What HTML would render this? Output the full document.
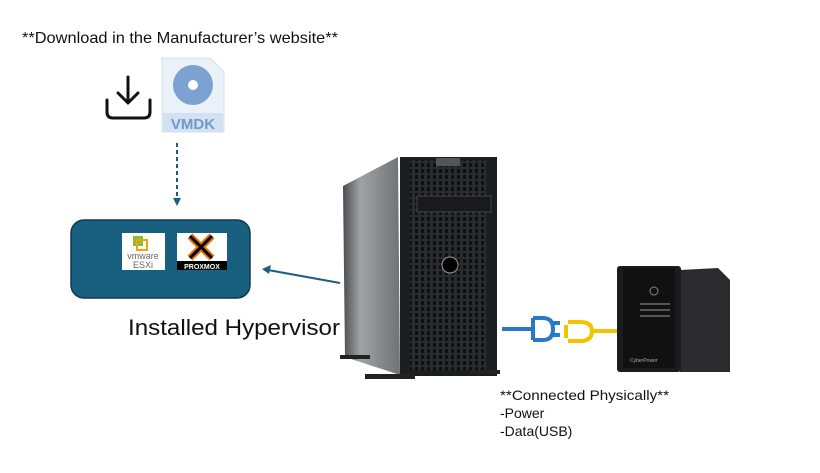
<!DOCTYPE html>
<html><head><meta charset="utf-8"><style>
html,body{margin:0;padding:0;background:#fff}
svg{display:block}
text{font-family:"Liberation Sans",sans-serif}
</style></head><body>
<svg width="820" height="473" viewBox="0 0 820 473" xmlns="http://www.w3.org/2000/svg">
<defs>
<linearGradient id="side" x1="0" x2="1"><stop offset="0" stop-color="#4a4c50"/><stop offset="0.3" stop-color="#a0a2a6"/><stop offset="1" stop-color="#707276"/></linearGradient>
<pattern id="mesh" width="6" height="6" patternUnits="userSpaceOnUse"><rect width="6" height="6" fill="#2a2b2e"/><rect x="1" y="1" width="3" height="4" rx="1" fill="#0e0e10"/></pattern>
</defs>
<text x="22" y="43" font-size="16" fill="#111" textLength="316" lengthAdjust="spacingAndGlyphs">**Download in the Manufacturer’s website**</text>
<g fill="none" stroke="#111" stroke-width="3" stroke-linecap="round" stroke-linejoin="round">
<path d="M128 77 V103 M118 93 L128 103 L138 93"/>
<path d="M107 100 V112 Q107 118 113 118 H144 Q150 118 150 112 V100"/>
</g>
<path d="M162 58 H210 L224 72 V132 H162 Z" fill="#eaf1f9" stroke="#d6e0ec"/>
<circle cx="193" cy="85" r="20" fill="#7ba2d0"/><circle cx="193" cy="85" r="5" fill="#fff"/>
<rect x="163" y="113" width="60" height="19" fill="#d3e2f2"/>
<text x="193" y="129" font-size="15" font-weight="bold" fill="#6e99c8" text-anchor="middle">VMDK</text>
<line x1="177" y1="143" x2="177" y2="200" stroke="#1b5f7f" stroke-width="2" stroke-dasharray="4,3"/>
<path d="M173 198 L177 206 L181 198 Z" fill="#1b5f7f"/>
<rect x="71" y="220" width="179" height="78" rx="13" fill="#185f80" stroke="#0f3a4e" stroke-width="1.5"/>
<rect x="122" y="233" width="43" height="37" fill="#fff"/>
<rect x="133" y="236" width="10" height="10" fill="#8bbb3a"/><rect x="137" y="240" width="10" height="10" fill="none" stroke="#f0a500" stroke-width="2"/>
<text x="143" y="259" font-size="9" fill="#666" text-anchor="middle">vmware</text>
<text x="143" y="268" font-size="9" fill="#666" text-anchor="middle">ESXi</text>
<rect x="177" y="233" width="50" height="37" fill="#fff"/>
<path d="M190 236 L212 258 M212 236 L190 258" stroke="#e57000" stroke-width="7"/>
<path d="M190 236 L212 258 M212 236 L190 258" stroke="#000" stroke-width="3"/>
<rect x="177" y="261" width="50" height="9" fill="#000"/>
<text x="202" y="269" font-size="7" font-weight="bold" fill="#fff" text-anchor="middle">PROXMOX</text>
<line x1="340" y1="283" x2="268" y2="270" stroke="#1b5f7f" stroke-width="2"/>
<path d="M262 269 L271 265 L269 274 Z" fill="#1b5f7f"/>
<text x="128" y="335" font-size="22" fill="#111" textLength="212" lengthAdjust="spacingAndGlyphs">Installed Hypervisor</text>
<path d="M343 186 L398 157 L400 375 L345 357 Z" fill="url(#side)"/>
<rect x="400" y="157" width="97" height="219" fill="#1c1d20"/>
<rect x="410" y="160" width="76" height="210" fill="url(#mesh)"/>
<rect x="436" y="158" width="24" height="8" fill="#555"/>
<rect x="417" y="196" width="74" height="16" fill="#1a1a1c" stroke="#444"/>
<circle cx="450" cy="265" r="8" fill="#000" stroke="#999"/>
<rect x="340" y="355" width="30" height="4" fill="#222"/>
<rect x="365" y="374" width="50" height="5" fill="#222"/>
<rect x="470" y="370" width="30" height="4" fill="#222"/>
<g fill="none" stroke-width="4">
<path d="M502 329 H532 M533 318 V340 M533 318 H543 Q553 318 553 329 Q553 340 543 340 H533 M553 323 H560 M553 335 H560" stroke="#2a79c6"/>
<path d="M568 322 H580 Q592 322 592 331 Q592 341 580 341 H568 M592 331 H617 M566 325 V338" stroke="#f2c400"/>
</g>
<path d="M680 270 L718 268 L730 280 L730 372 L680 372 Z" fill="#2b2b2e"/>
<rect x="617" y="266" width="64" height="106" rx="3" fill="#1b1b1d"/>
<rect x="623" y="268" width="52" height="100" fill="#111"/>
<circle cx="654" cy="291" r="4" fill="none" stroke="#888"/>
<rect x="640" y="303" width="30" height="2" fill="#555"/><rect x="640" y="309" width="30" height="2" fill="#555"/><rect x="640" y="315" width="30" height="2" fill="#555"/>
<text x="630" y="362" font-size="5" fill="#aaa">CyberPower</text>
<text x="500" y="400" font-size="14" fill="#111" textLength="169" lengthAdjust="spacingAndGlyphs">**Connected Physically**</text>
<text x="500" y="418" font-size="14" fill="#111">-Power</text>
<text x="500" y="436" font-size="14" fill="#111">-Data(USB)</text>
</svg>
</body></html>
